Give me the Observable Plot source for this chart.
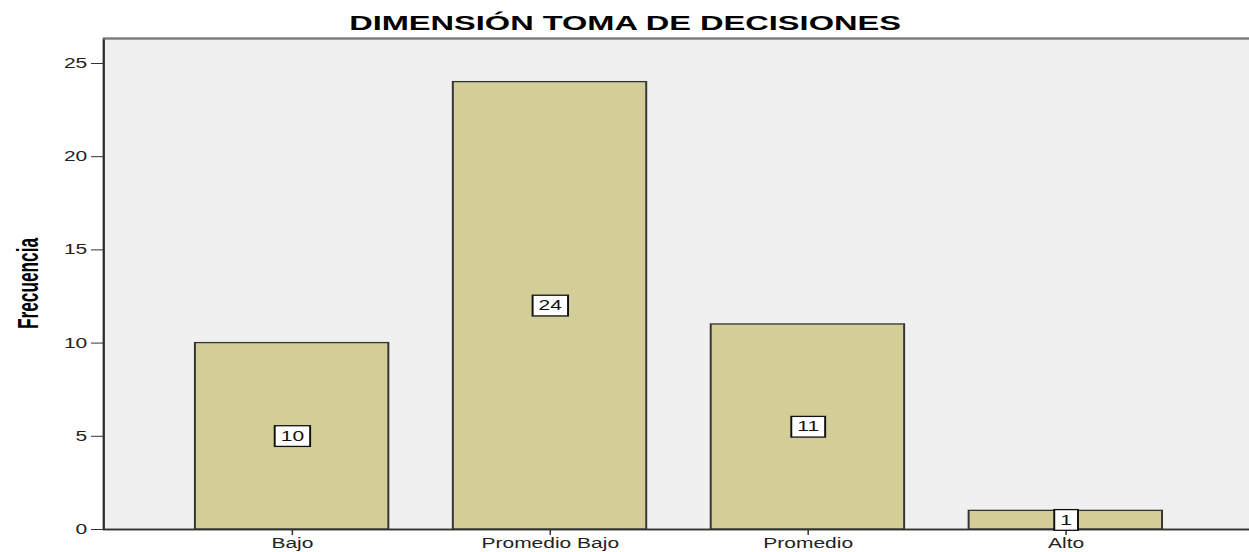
<!DOCTYPE html>
<html>
<head>
<meta charset="utf-8">
<script src="https://cdn.jsdelivr.net/npm/d3@7"></script>
<script src="https://cdn.jsdelivr.net/npm/@observablehq/plot@0.6"></script>
<style>
  html, body { margin: 0; padding: 0; background: white; }
  #chart svg { display: block; overflow: hidden; }
</style>
</head>
<body>
<div id="chart"></div>
<script>
const categories = ["Bajo", "Promedio Bajo", "Promedio", "Alto"];
const frequencies = [10, 24, 11, 1];
const yTicks = [0, 5, 10, 15, 20, 25];
const yMax = 26.34;
const title = "DIMENSIÓN TOMA DE DECISIONES";
const yLabel = "Frecuencia";

const data = categories.map((c, i) => ({cat: c, val: frequencies[i]}));

const W = 833, H = 552, REAL_W = 1249;

const svg = Plot.plot({
  width: W,
  height: H,
  marginTop: 38,
  marginBottom: 23,
  marginLeft: 68.7,
  marginRight: -3,
  style: {fontFamily: "'Liberation Sans', Arial, sans-serif", fontSize: "14px", color: "#222", background: "white"},
  x: {domain: categories, paddingInner: 0.25, paddingOuter: 0.347, label: null},
  y: {domain: [0, yMax], label: null},
  marks: [
    Plot.frame({fill: "#f0f0f0", stroke: "#2a2a2a", strokeWidth: 1.5}),
    Plot.ruleY([yMax], {stroke: "#7a7a7a", strokeWidth: 2}),
    Plot.barY(data, {x: "cat", y: "val", fill: "#d3ce97", stroke: "#333", strokeWidth: 1.3}),
    Plot.ruleY([0], {stroke: "#333", strokeWidth: 1.5}),
    Plot.axisY({ticks: yTicks, tickSize: 8, tickPadding: 3, fontSize: 14, stroke: "#333"}),
    Plot.axisX({tickSize: 6, tickPadding: 3, fontSize: 14, stroke: "#333"}),
    Plot.text(data, {x: "cat", y: d => d.val / 2, text: d => String(d.val), fontSize: 14, fill: "#111", className: "vlabel"}),
    Plot.text([title], {text: d => d, frameAnchor: "top", lineAnchor: "bottom", dy: -8.5, dx: -36, fontWeight: "bold", fontSize: 20, fill: "#000", className: "ctitle"}),
    Plot.text([yLabel], {text: d => d, frameAnchor: "left", rotate: -90, textAnchor: "start", dx: -50.4, dy: 45, fontWeight: "bold", fontSize: 20, fill: "#000", fontFamily: "'Liberation Sans Narrow', 'Arial Narrow', 'Liberation Sans', sans-serif", className: "ylab"})
  ]
});

svg.setAttribute("width", REAL_W);
svg.setAttribute("height", H);
svg.setAttribute("preserveAspectRatio", "none");
svg.style.width = REAL_W + "px";
svg.style.height = H + "px";
svg.style.maxWidth = "none";
document.getElementById("chart").appendChild(svg);

const s = d3.select(svg);
s.selectAll("g.ctitle text").attr("textLength", 368).attr("lengthAdjust", "spacingAndGlyphs");
s.selectAll("g.ylab text").attr("textLength", 91).attr("lengthAdjust", "spacingAndGlyphs");

s.selectAll("g.vlabel text").each(function() {
  const b = this.getBBox();
  const padX = 4, padY = 2.5;
  const r = document.createElementNS("http://www.w3.org/2000/svg", "rect");
  r.setAttribute("x", b.x - padX);
  r.setAttribute("y", b.y - padY);
  r.setAttribute("width", b.width + 2 * padX);
  r.setAttribute("height", b.height + 2 * padY);
  r.setAttribute("fill", "white");
  r.setAttribute("stroke", "#111");
  r.setAttribute("stroke-width", 1.3);
  const t = this.getAttribute("transform");
  if (t) r.setAttribute("transform", t);
  this.parentNode.insertBefore(r, this);
});
</script>
</body>
</html>
